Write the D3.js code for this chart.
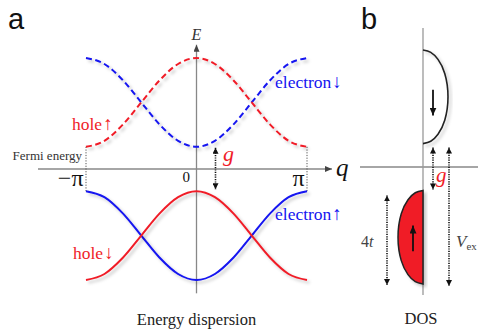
<!DOCTYPE html>
<head>
    <meta charset="utf-8">
    <title>Energy dispersion and DOS</title>
    <script src="https://d3js.org/d3.v7.min.js"></script>
    <style>
        body { margin: 0; background: #fff; }
        svg text { font-family: "Liberation Serif", "Times New Roman", serif; }
        .panel { font-family: "Liberation Sans", Arial, sans-serif; font-size: 29px; fill: #111; }
        .lbl { font-size: 17.5px; }
        .spin { font-weight: bold; font-size: 19px; }
    </style>
</head>

<body>
    <div id="container"></div>
    <script>
        //----------------------------DATA----------------------------//
        var qSixths = [-6, -5, -4, -3, -2, -1, 0, 1, 2, 3, 4, 5, 6];   // q in units of pi/6
        var electronDown = [5, 4.73, 4, 3, 2, 1.27, 1, 1.27, 2, 3, 4, 4.73, 5];
        var holeUp = [1, 1.27, 2, 3, 4, 4.73, 5, 4.73, 4, 3, 2, 1.27, 1];
        var electronUp = [-1, -1.27, -2, -3, -4, -4.73, -5, -4.73, -4, -3, -2, -1.27, -1];
        var holeDown = [-5, -4.73, -4, -3, -2, -1.27, -1, -1.27, -2, -3, -4, -4.73, -5];
        var qTicks = [-Math.PI, 0, Math.PI];
        var qTickLabels = ["\u2212\u03c0", "0", "\u03c0"];
        // density of states, energy vs. density (b)
        var dosEnergyDown = [1, 1.1, 1.4, 2, 3, 4, 4.6, 4.9, 5];
        var dosDown = [0, 0.31, 0.6, 0.87, 1, 0.87, 0.6, 0.31, 0];
        var dosEnergyUp = [-5, -4.9, -4.6, -4, -3, -2, -1.4, -1.1, -1];
        var dosUp = [0, 0.31, 0.6, 0.87, 1, 0.87, 0.6, 0.31, 0];
        var gapEdges = [1, -1];       // g
        var lowerBand = [-1, -5];     // 4t
        var exchange = [1, -5];       // V_ex

        //----------------------------SVG-----------------------------//
        var W = 478, H = 333;
        var svg = d3.select("#container").append("svg").attr("width", W).attr("height", H);
        var defs = svg.append("defs");

        var sh = defs.append("filter").attr("id", "shadow")
            .attr("x", "-20%").attr("y", "-20%").attr("width", "140%").attr("height", "140%");
        sh.append("feDropShadow").attr("dx", 2.5).attr("dy", 2.5).attr("stdDeviation", 1.6)
            .attr("flood-color", "#000").attr("flood-opacity", 0.22);

        function marker(id, color, w, h) {
            defs.append("marker").attr("id", id)
                .attr("viewBox", "0 0 " + w + " " + h)
                .attr("refX", w).attr("refY", h / 2)
                .attr("markerWidth", w).attr("markerHeight", h)
                .attr("markerUnits", "userSpaceOnUse")
                .attr("orient", "auto-start-reverse")
                .append("path").attr("d", "M0,0L" + w + "," + (h / 2) + "L0," + h + "Z")
                .attr("fill", color);
        }
        marker("axHead", "#444", 7, 6);
        marker("dotHead", "#111", 6, 6);
        marker("spinHead", "#111", 8, 7);

        //---------------------------SCALES---------------------------//
        var xA = d3.scaleLinear().domain([-Math.PI, Math.PI]).range([86, 307]);
        var yA = d3.scaleLinear().domain([5, -5]).range([58, 280]);
        var yB = d3.scaleLinear().domain([5, -5]).range([50, 284]);
        var wB = d3.scaleLinear().domain([0, 1]).range([0, 25]);
        var axisB = 423;

        var RED = "#f01c28", BLUE = "#1414f0";

        //---------------------------PANEL A--------------------------//
        var a = svg.append("g");

        // axes
        a.append("line").attr("x1", xA(-Math.PI) - 48).attr("x2", xA(Math.PI) + 25)
            .attr("y1", yA(0)).attr("y2", yA(0))
            .attr("stroke", "#888").attr("stroke-width", 1.3).attr("marker-end", "url(#axHead)");
        a.append("line").attr("x1", xA(0)).attr("x2", xA(0))
            .attr("y1", yA(-5.6)).attr("y2", yA(5.6))
            .attr("stroke", "#888").attr("stroke-width", 1.3).attr("marker-end", "url(#axHead)");

        var ticks = a.append("g").attr("transform", "translate(0," + (yA(0) + 2) + ")")
            .call(d3.axisBottom(xA).tickValues(qTicks).tickSize(0)
                .tickFormat(function (d, i) { return qTickLabels[i]; }));
        ticks.select(".domain").remove();
        ticks.selectAll("text")
            .attr("text-anchor", "end")
            .attr("fill", "#111")
            .attr("font-family", "'Liberation Serif', serif")
            .attr("font-size", function (d) { return d === 0 ? 15 : 24; })
            .attr("dx", function (d) { return d === 0 ? -7 : -3; })
            .attr("dy", function (d) { return d === 0 ? "0.55em" : "0.5em"; });

        // dotted guides at the zone edges
        [-Math.PI, Math.PI].forEach(function (q) {
            a.append("line").attr("x1", xA(q)).attr("x2", xA(q))
                .attr("y1", yA(gapEdges[0])).attr("y2", yA(gapEdges[1]))
                .attr("stroke", "#555").attr("stroke-width", 1).attr("stroke-dasharray", "1.2,1.5");
        });

        // bands
        var band = d3.line()
            .x(function (d) { return xA(d[0] * Math.PI / 6); })
            .y(function (d) { return yA(d[1]); })
            .curve(d3.curveMonotoneX);
        var series = [
            { v: electronDown, c: BLUE, dash: true },
            { v: holeUp, c: RED, dash: true },
            { v: electronUp, c: BLUE, dash: false },
            { v: holeDown, c: RED, dash: false }
        ];
        a.selectAll(".band").data(series).enter().append("path")
            .attr("class", "band")
            .attr("d", function (s) { return band(d3.zip(qSixths, s.v)); })
            .attr("fill", "none")
            .attr("stroke", function (s) { return s.c; })
            .attr("stroke-width", 2)
            .attr("stroke-dasharray", function (s) { return s.dash ? "6,3.5" : null; })
            .attr("filter", "url(#shadow)");

        // gap arrow
        a.append("line").attr("x1", xA(0) + 19).attr("x2", xA(0) + 19)
            .attr("y1", yA(gapEdges[0]) + 1).attr("y2", yA(gapEdges[1]) - 2)
            .attr("stroke", "#111").attr("stroke-width", 1.6).attr("stroke-dasharray", "1.2,1.2")
            .attr("marker-start", "url(#dotHead)").attr("marker-end", "url(#dotHead)");

        // labels
        a.append("text").attr("class", "panel").attr("x", 8).attr("y", 29).text("a");
        a.append("text").attr("x", xA(0)).attr("y", 40).attr("text-anchor", "middle")
            .attr("font-style", "italic").attr("font-size", 16).attr("fill", "#333").text("E");
        a.append("text").attr("x", 336).attr("y", 176)
            .attr("font-style", "italic").attr("font-size", 25).attr("fill", "#111").text("q");
        a.append("text").attr("x", 82).attr("y", 160).attr("text-anchor", "end")
            .attr("font-size", 13).attr("fill", "#333").text("Fermi energy");
        a.append("text").attr("x", 223).attr("y", 161)
            .attr("font-style", "italic").attr("font-size", 22).attr("fill", RED).text("g");

        function spinLabel(x, y, word, arrow, color) {
            var t = a.append("text").attr("class", "lbl").attr("x", x).attr("y", y).attr("fill", color);
            t.append("tspan").text(word);
            t.append("tspan").attr("class", "spin").attr("dx", 1).text(arrow);
        }
        spinLabel(275, 88, "electron", "\u2193", BLUE);
        spinLabel(72, 130, "hole", "\u2191", RED);
        spinLabel(275, 220, "electron", "\u2191", BLUE);
        spinLabel(73, 259, "hole", "\u2193", RED);

        a.append("text").attr("x", xA(0)).attr("y", 325).attr("text-anchor", "middle")
            .attr("font-size", 16.5).attr("fill", "#222").text("Energy dispersion");

        //---------------------------PANEL B--------------------------//
        var b = svg.append("g");

        b.append("line").attr("x1", 360).attr("x2", W).attr("y1", yB(0)).attr("y2", yB(0))
            .attr("stroke", "#888").attr("stroke-width", 1.3);
        b.append("line").attr("x1", axisB).attr("x2", axisB).attr("y1", 28).attr("y2", 295)
            .attr("stroke", "#999").attr("stroke-width", 1.3);

        var dosLine = function (side) {
            return d3.line()
                .x(function (d) { return axisB + side * wB(d[1]); })
                .y(function (d) { return yB(d[0]); })
                .curve(d3.curveCatmullRom);
        };
        b.append("path")
            .attr("d", dosLine(-1)(d3.zip(dosEnergyUp, dosUp)) + "Z")
            .attr("fill", RED).attr("stroke", "#222").attr("stroke-width", 1.5)
            .attr("filter", "url(#shadow)");
        b.append("path")
            .attr("d", dosLine(1)(d3.zip(dosEnergyDown, dosDown)))
            .attr("fill", "none").attr("stroke", "#222").attr("stroke-width", 1.6)
            .attr("filter", "url(#shadow)");

        // spin arrows
        b.append("line").attr("x1", axisB + 10).attr("x2", axisB + 10)
            .attr("y1", yB(3.3)).attr("y2", yB(2.2))
            .attr("stroke", "#111").attr("stroke-width", 1.8).attr("marker-end", "url(#spinHead)");
        b.append("line").attr("x1", axisB - 10).attr("x2", axisB - 10)
            .attr("y1", yB(-3.6)).attr("y2", yB(-2.5))
            .attr("stroke", "#111").attr("stroke-width", 1.8).attr("marker-end", "url(#spinHead)");

        // dotted double arrows
        var dims = [
            { x: axisB + 10, e: gapEdges, d0: 4, d1: -1 },
            { x: axisB + 26, e: exchange, d0: 4, d1: 2 },
            { x: axisB - 36, e: lowerBand, d0: 5, d1: 1 }
        ];
        b.selectAll(".dim").data(dims).enter().append("line")
            .attr("class", "dim")
            .attr("x1", function (d) { return d.x; }).attr("x2", function (d) { return d.x; })
            .attr("y1", function (d) { return yB(d.e[0]) + d.d0; })
            .attr("y2", function (d) { return yB(d.e[1]) + d.d1; })
            .attr("stroke", "#111").attr("stroke-width", 1.6).attr("stroke-dasharray", "1.2,1.2")
            .attr("marker-start", "url(#dotHead)").attr("marker-end", "url(#dotHead)");

        b.append("text").attr("class", "panel").attr("x", 361).attr("y", 29).text("b");
        b.append("text").attr("x", 436).attr("y", 182)
            .attr("font-style", "italic").attr("font-size", 21).attr("fill", RED).text("g");
        var ft = b.append("text").attr("x", 361).attr("y", 247).attr("font-size", 16).attr("fill", "#444");
        ft.append("tspan").text("4");
        ft.append("tspan").attr("font-style", "italic").text("t");
        var vx = b.append("text").attr("x", 456).attr("y", 247).attr("font-size", 17).attr("fill", "#444");
        vx.append("tspan").attr("font-style", "italic").text("V");
        vx.append("tspan").attr("font-size", 11).attr("dy", 3).text("ex");
        b.append("text").attr("x", axisB - 2).attr("y", 324).attr("text-anchor", "middle")
            .attr("font-size", 16.5).attr("fill", "#222").text("DOS");
    </script>
</body>
